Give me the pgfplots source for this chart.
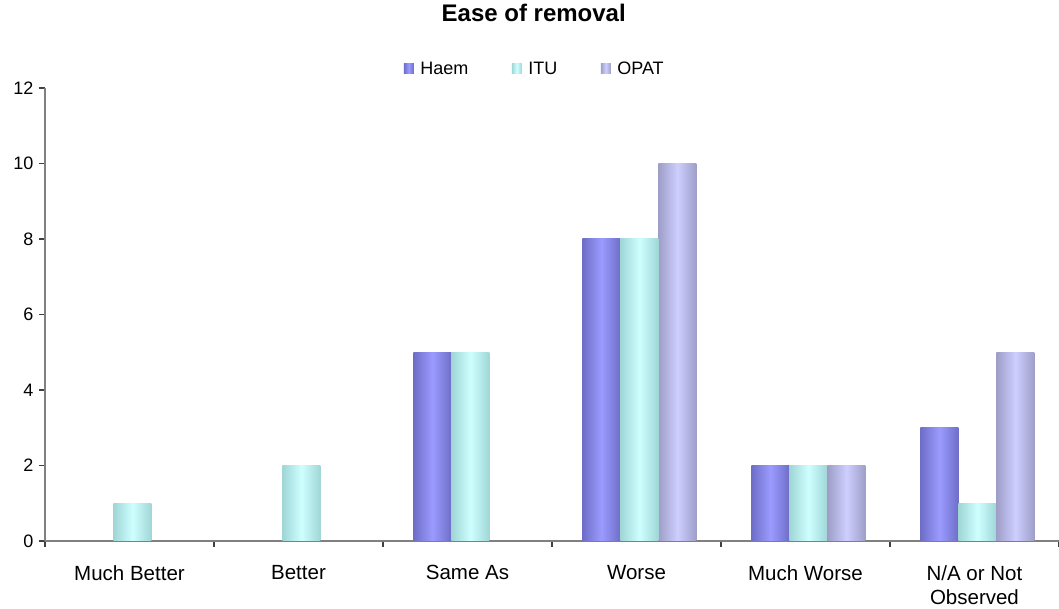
\documentclass[border=0pt]{standalone}
\usepackage{fontspec}
\setmainfont{Liberation Sans}
\usepackage{pgfplots}
\pgfplotsset{compat=1.18}
\definecolor{haemD}{RGB}{110,110,200}
\definecolor{haemL}{RGB}{155,155,255}
\definecolor{ituD}{RGB}{160,214,214}
\definecolor{ituL}{RGB}{206,255,255}
\definecolor{opatD}{RGB}{158,158,200}
\definecolor{opatL}{RGB}{206,206,255}
\definecolor{axgray}{RGB}{128,128,128}
\pgfplotsset{
  haem/.style={draw=none, left color=haemD, right color=haemD, middle color=haemL, bar shift=-35pt},
  itu/.style={draw=none, left color=ituD, right color=ituD, middle color=ituL, bar shift=3pt},
  opat/.style={draw=none, left color=opatD, right color=opatD, middle color=opatL, bar shift=41pt},
}
\begin{document}
\begin{tikzpicture}[x=1pt,y=1pt]
\useasboundingbox (0,0) rectangle (1059,609);
\begin{axis}[
  at={(45pt,68pt)}, anchor=south west,
  scale only axis, width=1014pt, height=453pt,
  ybar, bar width=38pt,
  xmin=-0.5, xmax=5.5, ymin=0, ymax=12,
  axis x line*=bottom, axis y line*=left,
  axis line style={axgray, line width=1.6pt, -},
  xtick={0,1,2,3,4,5},
  xticklabels={Much Better, Better, Same As, Worse, Much Worse, {N/A or Not\\Observed}},
  minor xtick={-0.5,0.5,1.5,2.5,3.5,4.5,5.5},
  major x tick style={draw=none},
  ytick={0,2,4,6,8,10,12},
  tick align=outside,
  major tick length=6pt, minor tick length=6pt,
  tick style={black!75, line width=1.1pt},
  /pgf/number format/assume math mode=true,
  yticklabel style={font=\fontsize{18}{20}\selectfont, xshift=-2pt},
  xticklabel style={font=\fontsize{20.5}{24}\selectfont, align=center, yshift=-15pt},
  title={\textbf{Ease of removal}},
  title style={at={(0.482,1.152)}, anchor=center, font=\fontsize{24}{27}\selectfont},
  legend style={at={(0.483,1.042)}, anchor=center, draw=none, fill=none,
    legend columns=3, font=\fontsize{18}{20}\selectfont,
    /tikz/every odd column/.append style={column sep=4.5pt},
    /tikz/every even column/.append style={column sep=41.5pt}},
  legend image code/.code={\path[#1,draw=none] (0pt,-5pt) rectangle (10pt,5pt);},
]
% first bar of each series carries the legend entry
\addplot[haem] coordinates {(2,5)};
\addplot[itu] coordinates {(0,1)};
\addplot[opat] coordinates {(3,10)};
% Haem
\addplot[haem, forget plot] coordinates {(3,8)};
\addplot[haem, forget plot] coordinates {(4,2)};
\addplot[haem, forget plot] coordinates {(5,3)};
% ITU
\addplot[itu, forget plot] coordinates {(1,2)};
\addplot[itu, forget plot] coordinates {(2,5)};
\addplot[itu, forget plot] coordinates {(3,8)};
\addplot[itu, forget plot] coordinates {(4,2)};
\addplot[itu, forget plot] coordinates {(5,1)};
% OPAT
\addplot[opat, forget plot] coordinates {(4,2)};
\addplot[opat, forget plot] coordinates {(5,5)};
\legend{Haem, ITU, OPAT}
\end{axis}
\end{tikzpicture}
\end{document}
